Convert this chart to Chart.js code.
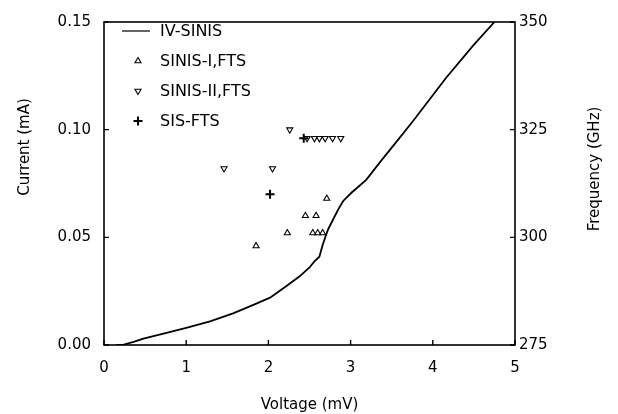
<!DOCTYPE html>
<html>
<head>
<meta charset="utf-8">
<script src="https://cdn.jsdelivr.net/npm/chart.js@4.4.1/dist/chart.umd.min.js"></script>
<style>
  html, body { margin: 0; padding: 0; background: #fff; }
  #wrap { width: 618px; height: 414px; }
</style>
</head>
<body>
<div id="wrap"><canvas id="c" width="618" height="414"></canvas></div>
<script>
// ---- data ----
const ivVoltage = [0.15, 0.22, 0.36, 0.48, 0.76, 1.00, 1.29, 1.57, 1.81, 2.02, 2.22, 2.38, 2.50, 2.56, 2.62, 2.66, 2.70, 2.73, 2.79, 2.85, 2.91, 3.01, 3.19, 3.37, 3.54, 3.76, 4.16, 4.49, 4.75];
const ivCurrent = [0.000, 0.000, 0.0015, 0.003, 0.0056, 0.008, 0.011, 0.0147, 0.0185, 0.022, 0.0274, 0.0319, 0.036, 0.0388, 0.041, 0.0464, 0.051, 0.054, 0.0585, 0.063, 0.0669, 0.0707, 0.0767, 0.0855, 0.0935, 0.104, 0.124, 0.139, 0.150];

const sinis1Voltage = [1.85, 2.23, 2.45, 2.54, 2.58, 2.60, 2.66, 2.71];
const sinis1Freq    = [298, 301, 305, 301, 305, 301, 301, 309];

const sinis2Voltage = [1.46, 2.05, 2.26, 2.47, 2.56, 2.62, 2.69, 2.78, 2.88];
const sinis2Freq    = [316, 316, 325, 323, 323, 323, 323, 323, 323];

const sisVoltage = [2.02, 2.43];
const sisFreq    = [310, 323];

const seriesLabels = ['IV-SINIS', 'SINIS-I,FTS', 'SINIS-II,FTS', 'SIS-FTS'];
const xTicks  = [0, 1, 2, 3, 4, 5];
const yTicks  = [0.00, 0.05, 0.10, 0.15];
const y2Ticks = [275, 300, 325, 350];
const axisTitles = { x: 'Voltage (mV)', y: 'Current (mA)', y2: 'Frequency (GHz)' };

const pts = (xs, ys) => xs.map((x, i) => ({ x: x, y: ys[i] }));

Chart.defaults.font.family = "'DejaVu Sans', sans-serif";
Chart.defaults.font.size = 15;
Chart.defaults.color = '#000';

const framePlugin = {
  id: 'frame',
  afterDatasetsDraw(chart) {
    const { ctx, chartArea: a, scales } = chart;
    ctx.save();
    ctx.strokeStyle = '#000';
    ctx.lineWidth = 1.6;
    ctx.strokeRect(a.left, a.top, a.right - a.left, a.bottom - a.top);
    ctx.lineWidth = 1.4;
    const tl = 5;
    ctx.beginPath();
    scales.x.ticks.forEach(t => {
      const px = scales.x.getPixelForValue(t.value);
      ctx.moveTo(px, a.bottom); ctx.lineTo(px, a.bottom - tl);
    });
    scales.y.ticks.forEach(t => {
      const py = scales.y.getPixelForValue(t.value);
      ctx.moveTo(a.left, py); ctx.lineTo(a.left + tl, py);
    });
    scales.y2.ticks.forEach(t => {
      const py = scales.y2.getPixelForValue(t.value);
      ctx.moveTo(a.right, py); ctx.lineTo(a.right - tl, py);
    });
    ctx.stroke();

    // axis titles for the vertical axes
    ctx.fillStyle = '#000';
    ctx.font = "15px 'DejaVu Sans', sans-serif";
    ctx.textAlign = 'center';
    ctx.textBaseline = 'middle';
    ctx.save();
    ctx.translate(25, 147);
    ctx.rotate(-Math.PI / 2);
    ctx.fillText(axisTitles.y, 0, 0);
    ctx.restore();
    ctx.save();
    ctx.translate(595, 169);
    ctx.rotate(-Math.PI / 2);
    ctx.fillText(axisTitles.y2, 0, 0);
    ctx.restore();

    // legend inside plot
    const rows = [31, 61, 91, 121];
    const textX = 160, markX = 138;
    ctx.font = "16px 'DejaVu Sans', sans-serif";
    ctx.textAlign = 'left';
    chart.data.datasets.forEach((ds, i) => {
      const y = rows[i];
      ctx.strokeStyle = '#000';
      if (ds.showLine) {
        ctx.beginPath();
        ctx.lineWidth = 1.2;
        ctx.moveTo(122, y); ctx.lineTo(150, y);
        ctx.stroke();
      } else {
        ctx.lineWidth = ds.borderWidth;
        ctx.fillStyle = ds.backgroundColor;
        Chart.helpers.drawPoint(ctx, {
          pointStyle: ds.pointStyle, rotation: ds.pointRotation || 0,
          radius: ds.pointRadius, borderWidth: ds.borderWidth
        }, markX, y);
      }
      ctx.fillStyle = '#000';
      ctx.fillText(ds.label, textX, y + 1);
    });
    ctx.restore();
  }
};

new Chart(document.getElementById('c'), {
  type: 'scatter',
  data: {
    datasets: [
      { label: seriesLabels[0], data: pts(ivVoltage, ivCurrent), showLine: true, pointRadius: 0,
        borderColor: '#000', borderWidth: 1.8, yAxisID: 'y', tension: 0 },
      { label: seriesLabels[1], data: pts(sinis1Voltage, sinis1Freq), pointStyle: 'triangle',
        pointRadius: 3.5, borderWidth: 1.1, borderColor: '#000', backgroundColor: 'rgba(0,0,0,0)', yAxisID: 'y2' },
      { label: seriesLabels[2], data: pts(sinis2Voltage, sinis2Freq), pointStyle: 'triangle', pointRotation: 180,
        pointRadius: 3.5, borderWidth: 1.1, borderColor: '#000', backgroundColor: 'rgba(0,0,0,0)', yAxisID: 'y2' },
      { label: seriesLabels[3], data: pts(sisVoltage, sisFreq), pointStyle: 'cross',
        pointRadius: 4.5, borderWidth: 2, borderColor: '#000', backgroundColor: '#000', yAxisID: 'y2' }
    ]
  },
  options: {
    responsive: false,
    animation: false,
    layout: { padding: { top: 16, left: 0, right: 0, bottom: 0 } },
    plugins: { legend: { display: false }, tooltip: { enabled: false } },
    scales: {
      x: {
        type: 'linear', min: 0, max: 5,
        afterBuildTicks: s => { s.ticks = xTicks.map(v => ({ value: v })); },
        afterFit: s => { s.height = 69; },
        grid: { display: false, drawTicks: false },
        border: { display: false },
        ticks: { padding: 14, callback: v => String(v) },
        title: { display: true, text: axisTitles.x, padding: { top: 0, bottom: 0 }, font: { size: 15 } }
      },
      y: {
        type: 'linear', position: 'left', min: 0, max: 0.15,
        afterBuildTicks: s => { s.ticks = yTicks.map(v => ({ value: v })); },
        afterFit: s => { s.width = 104; },
        grid: { display: false, drawTicks: false },
        border: { display: false },
        ticks: { padding: 13, callback: v => Number(v).toFixed(2) }
      },
      y2: {
        type: 'linear', position: 'right', min: 275, max: 350,
        afterBuildTicks: s => { s.ticks = y2Ticks.map(v => ({ value: v })); },
        afterFit: s => { s.width = 103; },
        grid: { display: false, drawTicks: false },
        border: { display: false },
        ticks: { padding: 4, callback: v => String(v) }
      }
    }
  },
  plugins: [framePlugin]
});
</script>
</body>
</html>
